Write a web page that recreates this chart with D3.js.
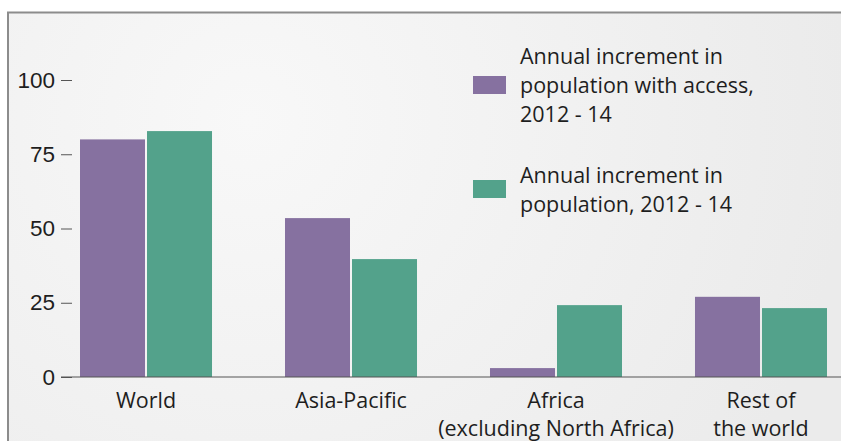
<!DOCTYPE html>
<meta charset="utf-8">
<title>Annual increment in population with access</title>
<style>
  body { margin: 0; background: #fff; }
  svg { display: block; font-family: "Open Sans", sans-serif; }
  .tick text { fill: #1e1e1e; font-size: 22.5px; }
  .cat { fill: #1e1e1e; font-size: 21.5px; text-anchor: middle; }
  .legend text { fill: #1e1e1e; font-size: 21.5px; }
</style>
<svg width="841" height="441"></svg>
<script src="https://d3js.org/d3.v7.min.js"></script>
<script>
  var categories = [["World"], ["Asia-Pacific"], ["Africa", "(excluding North Africa)"], ["Rest of", "the world"]];
  var withAccess = [80, 53.5, 3, 27];
  var population = [82.8, 39.7, 24.2, 23.2];
  var yTicks = [0, 25, 50, 75, 100];
  var seriesNames = [["Annual increment in", "population with access,", "2012 - 14"],
                     ["Annual increment in", "population, 2012 - 14"]];
  var colors = ["#8671a0", "#53a28b"];

  var svg = d3.select("svg"),
    width = +svg.attr("width"),
    height = +svg.attr("height");

  // background panel with soft radial light
  var grad = svg.append("defs").append("radialGradient")
    .attr("id", "bg")
    .attr("gradientUnits", "userSpaceOnUse")
    .attr("cx", 250).attr("cy", 120).attr("r", 600);
  grad.append("stop").attr("offset", "0%").attr("stop-color", "#f8f8f8");
  grad.append("stop").attr("offset", "100%").attr("stop-color", "#ebebeb");

  svg.append("rect")
    .attr("x", 8).attr("y", 12)
    .attr("width", width - 8).attr("height", height - 12)
    .attr("fill", "url(#bg)");

  svg.append("path")
    .attr("d", "M8," + height + "V12.5H" + width)
    .attr("fill", "none")
    .attr("stroke", "#8c8c8c")
    .attr("stroke-width", 2);

  var y = d3.scaleLinear().domain([0, 100]).range([377, 80]);

  var x0 = d3.scaleBand()
    .domain(d3.range(categories.length))
    .range([80, 827])
    .paddingInner(0.356)
    .paddingOuter(0);

  var x1 = d3.scaleBand()
    .domain([0, 1])
    .range([0, x0.bandwidth()])
    .paddingInner(0.03);

  // y axis: ticks only, no domain line
  var yAxis = svg.append("g")
    .attr("transform", "translate(72,0)")
    .call(d3.axisLeft(y).tickValues(yTicks).tickSize(11).tickPadding(6));
  yAxis.select(".domain").remove();
  yAxis.selectAll(".tick line").attr("stroke", "#555");

  var groups = svg.selectAll(".group")
    .data(categories.map(function (c, i) { return [withAccess[i], population[i]]; }))
    .enter().append("g")
    .attr("class", "group")
    .attr("transform", function (d, i) { return "translate(" + x0(i) + ",0)"; });

  groups.selectAll("rect")
    .data(function (d) { return d; })
    .enter().append("rect")
    .attr("x", function (d, j) { return x1(j); })
    .attr("width", x1.bandwidth())
    .attr("y", function (d) { return y(d); })
    .attr("height", function (d) { return y(0) - y(d); })
    .attr("fill", function (d, j) { return colors[j]; });

  // baseline
  svg.append("line")
    .attr("x1", 61).attr("x2", width)
    .attr("y1", y(0)).attr("y2", y(0))
    .attr("stroke", "#555")
    .attr("stroke-width", 1.2);

  // category labels
  svg.selectAll(".cat")
    .data(categories)
    .enter().append("text")
    .attr("class", "cat")
    .attr("x", function (d, i) { return x0(i) + x0.bandwidth() / 2; })
    .attr("y", 408)
    .selectAll("tspan")
    .data(function (d) { return d; })
    .enter().append("tspan")
    .attr("x", function () { return this.parentNode.getAttribute("x"); })
    .attr("dy", function (d, k) { return k ? 28 : 0; })
    .text(function (d) { return d; });

  // legend
  var legendTop = [85, 189];
  var legend = svg.selectAll(".legend")
    .data(seriesNames)
    .enter().append("g")
    .attr("class", "legend")
    .attr("transform", function (d, i) { return "translate(473," + legendTop[i] + ")"; });

  legend.append("rect")
    .attr("y", -9).attr("width", 33).attr("height", 18)
    .attr("fill", function (d, i) { return colors[i]; });

  legend.append("text")
    .attr("x", 47)
    .attr("y", function (d) { return -(d.length - 1) * 29 / 2 + 8; })
    .selectAll("tspan")
    .data(function (d) { return d; })
    .enter().append("tspan")
    .attr("x", 47)
    .attr("dy", function (d, k) { return k ? 29 : 0; })
    .text(function (d) { return d; });
</script>
